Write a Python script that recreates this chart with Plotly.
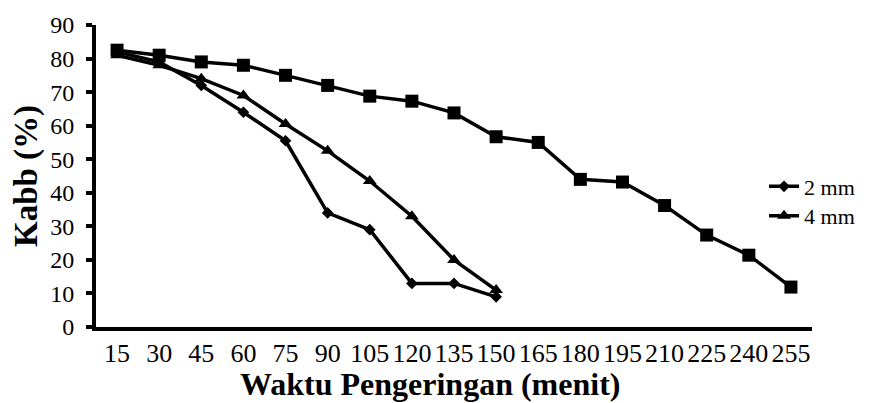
import plotly.graph_objects as go

# Drying time categories (minutes)
waktu = ["15", "30", "45", "60", "75", "90", "105", "120", "135", "150",
         "165", "180", "195", "210", "225", "240", "255"]

# Kabb (%) per sample thickness
kabb_2mm = [82, 79, 72, 64, 55.5, 34, 29, 13, 13, 9]
kabb_4mm = [81, 78, 74, 69, 60.5, 52.5, 43.5, 33, 20, 11]
kabb_6mm = [82.5, 81, 79, 78, 75, 72, 68.8, 67.3, 63.8, 56.7,
            55, 44, 43.2, 36.2, 27.4, 21.4, 11.9]

FONT = "Liberation Serif"
LINE_W = 3.5

fig = go.Figure()
fig.add_trace(go.Scatter(
    x=waktu[:len(kabb_6mm)], y=kabb_6mm, name="6 mm", showlegend=False,
    mode="lines+markers", line=dict(color="black", width=LINE_W),
    marker=dict(symbol="square", size=13, color="black")))
fig.add_trace(go.Scatter(
    x=waktu[:len(kabb_4mm)], y=kabb_4mm, name="4 mm", legend="legend2",
    mode="lines+markers", line=dict(color="black", width=LINE_W),
    marker=dict(symbol="triangle-up", size=12, color="black")))
fig.add_trace(go.Scatter(
    x=waktu[:len(kabb_2mm)], y=kabb_2mm, name="2 mm", legend="legend",
    mode="lines+markers", line=dict(color="black", width=LINE_W),
    marker=dict(symbol="diamond", size=9, color="black")))

legend_style = dict(xanchor="left", yanchor="middle",
                    font=dict(size=22, family=FONT),
                    bgcolor="rgba(0,0,0,0)", itemwidth=30)

fig.update_layout(
    width=884, height=403,
    margin=dict(l=96, r=72, t=23, b=76),
    paper_bgcolor="white", plot_bgcolor="white",
    font=dict(family=FONT, color="black"),
    legend=dict(x=0.933, y=0.465, **legend_style),
    legend2=dict(x=0.933, y=0.368, **legend_style),
    xaxis=dict(type="category", categoryorder="array", categoryarray=waktu,
               range=[-0.5, len(waktu) - 0.5],
               showline=True, linecolor="black", linewidth=4,
               showgrid=False, zeroline=False, ticks="",
               tickfont=dict(size=26, family=FONT)),
    yaxis=dict(range=[0, 90], dtick=10, tick0=0,
               showline=True, linecolor="black", linewidth=4,
               showgrid=False, zeroline=False,
               ticks="outside", ticklen=6, tickwidth=4, tickcolor="black",
               ticklabelstandoff=7,
               tickfont=dict(size=24, family=FONT)),
    annotations=[
        dict(text="<b>Waktu Pengeringan (menit)</b>", xref="paper", yref="paper",
             x=(430 - 96) / 716, y=-0.19, xanchor="center", yanchor="middle",
             showarrow=False, font=dict(size=32, family=FONT)),
        dict(text="<b>Kabb (%)</b>", xref="paper", yref="paper",
             x=(26 - 96) / 716, y=0.5, xanchor="center", yanchor="middle",
             textangle=-90, showarrow=False, font=dict(size=33, family=FONT)),
    ],
)

fig.write_html("out.html")
